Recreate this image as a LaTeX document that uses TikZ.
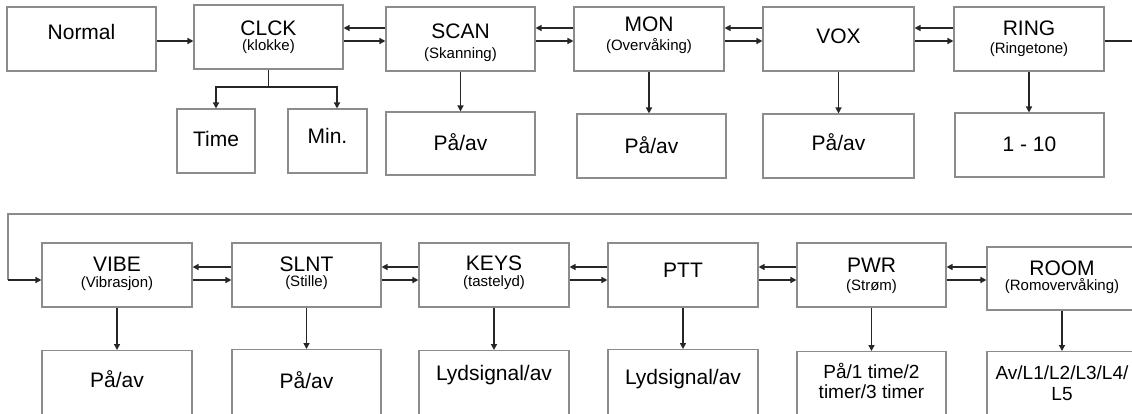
\documentclass[tikz,border=0pt]{standalone}
\usepackage{fontspec}
\setmainfont{Liberation Sans}
\usetikzlibrary{arrows.meta}
\definecolor{boxgray}{HTML}{8C8C8C}
\definecolor{ink}{HTML}{262626}
\newcommand\sublbl[1]{{\fontsize{15}{17}\selectfont #1}}
\begin{document}
\begin{tikzpicture}[x=1pt,y=-1pt,
  box/.style={draw=boxgray,line width=1.1pt,fill=white,inner sep=0pt,align=center,
    text=black,font=\fontsize{21}{17}\selectfont,minimum width=150pt,minimum height=64pt},
  tl/.style n args={2}{font=\fontsize{21}{#1}\selectfont,text height=#2,text depth=0pt},
  hd/.style n args={2}{text height=#1,text depth=#2},
  opt/.style={anchor=north,text depth=50pt,text height=#1},
  twoline/.style={font=\fontsize{19}{#1}\selectfont},
  arr/.style={draw=ink,line width=1.4pt,-{Triangle[length=6pt,width=6pt]}},
  ln/.style={draw=ink,line width=1.4pt},
  wrap/.style={draw=boxgray,line width=1.1pt}]
\path[use as bounding box] (0,0) rectangle (1132,413);
\clip (0,0) rectangle (1132,413);
% helper coordinates
\coordinate (ya) at (0,28);
\coordinate (yb) at (0,41);
\coordinate (yc) at (0,267);
\coordinate (yd) at (0,280);
\coordinate (br) at (0,87);
\coordinate (mx) at (337,0);
\coordinate (wr) at (1134,214);
\coordinate (wl) at (8,214);
% top row
\node[box,minimum width=149pt,hd={10.3pt}{10pt}] (normal) at (81.5,39) {Normal};
\node[box,minimum width=149pt,tl={14.5pt}{26pt}] (clck) at (268.5,37) {CLCK\\\sublbl{(klokke)}};
\node[box,minimum width=78pt,hd={15pt}{3.6pt}] (time) at (216,141) {Time};
\node[box,minimum width=79pt,hd={15pt}{10.4pt}] (min) at (327.5,141) {Min.};
\node[box,minimum width=149pt,tl={20pt}{39pt}] (scan) at (460.5,39) {SCAN\\\sublbl{(Skanning)}};
\node[box,minimum width=149pt,minimum height=63pt,hd={15pt}{0.6pt}] (scano) at (460.5,143.5) {På/av};
\node[box,tl={18.4pt}{22.2pt}] (mon) at (649,39) {MON\\\sublbl{(Overvåking)}};
\node[box,minimum width=149pt,hd={15pt}{0.4pt}] (mono) at (651.5,146) {På/av};
\node[box,minimum width=151pt,hd={15pt}{6.4pt}] (vox) at (838.5,39) {VOX};
\node[box,minimum width=151pt,hd={15pt}{7pt}] (voxo) at (838.5,146) {På/av};
\node[box,tl={17.8pt}{29pt}] (ring) at (1029,39) {RING\\\sublbl{(Ringetone)}};
\node[box,minimum width=149pt,hd={15pt}{1.6pt}] (ringo) at (1029.5,145) {1 - 10};
% bottom row
\node[box,tl={15.8pt}{25pt}] (vibe) at (117,275) {VIBE\\\sublbl{(Vibrasjon)}};
\node[box,minimum width=149pt,tl={15pt}{23.6pt}] (slnt) at (306.5,275) {SLNT\\\sublbl{(Stille)}};
\node[box,tl={16.8pt}{23.6pt}] (keys) at (494,275) {KEYS\\\sublbl{(tastelyd)}};
\node[box,hd={15pt}{10.4pt}] (ptt) at (683,275) {PTT};
\node[box,minimum width=149pt,tl={17.4pt}{30.2pt}] (pwr) at (871.5,275) {PWR\\\sublbl{(Strøm)}};
\node[box,minimum height=63pt,tl={15.8pt}{24.6pt}] (room) at (1062,278.5) {ROOM\\\sublbl{(Romovervåking)}};
% bottom row option boxes (run off the lower edge)
\node[box,opt=36.7pt] (vibeo) at (117,350) {På/av};
\node[box,minimum width=149pt,opt=38.7pt] (slnto) at (306.5,349) {På/av};
\node[box,opt=30pt] (keyso) at (494,350) {Lydsignal/av};
\node[box,opt=35pt] (ptto) at (683,349) {Lydsignal/av};
\node[box,twoline=20pt,minimum width=149pt,opt=47.3pt] (pwro) at (871.5,351) {På/1 time/2\\timer/3 timer};
\node[box,twoline=20.7pt,opt=49pt] (roomo) at (1062,351) {Av/L1/L2/L3/L4/\\L5};
% top row connectors
\draw[arr] (normal.east |- yb) -- (clck.west |- yb);
\draw[arr] (scan.west |- ya) -- (clck.east |- ya);
\draw[arr] (clck.east |- yb) -- (scan.west |- yb);
\draw[arr] (mon.west |- ya) -- (scan.east |- ya);
\draw[arr] (scan.east |- yb) -- (mon.west |- yb);
\draw[arr] (vox.west |- ya) -- (mon.east |- ya);
\draw[arr] (mon.east |- yb) -- (vox.west |- yb);
\draw[arr] (ring.west |- ya) -- (vox.east |- ya);
\draw[arr] (vox.east |- yb) -- (ring.west |- yb);
\draw[ln] (clck.south) -- (clck.south |- br);
\draw[arr] (clck.south |- br) -| (time.north);
\draw[arr] (clck.south |- br) -| (min.north -| mx);
\draw[arr] (scan.south) -- (scan.south |- scano.north);
\draw[arr] (mon.south) -- (mon.south |- mono.north);
\draw[arr] (vox.south) -- (vox.south |- voxo.north);
\draw[arr] (ring.south) -- (ring.south |- ringo.north);
% wrap-around connector
\draw[ln] (ring.east |- yb) -- (yb -| wr);
\draw[wrap] (yb -| wr) -- (wr) -- (wl) -- (wl |- yd);
\draw[arr] (wl |- yd) -- (vibe.west |- yd);
% bottom row connectors
\draw[arr] (slnt.west |- yc) -- (vibe.east |- yc);
\draw[arr] (vibe.east |- yd) -- (slnt.west |- yd);
\draw[arr] (keys.west |- yc) -- (slnt.east |- yc);
\draw[arr] (slnt.east |- yd) -- (keys.west |- yd);
\draw[arr] (ptt.west |- yc) -- (keys.east |- yc);
\draw[arr] (keys.east |- yd) -- (ptt.west |- yd);
\draw[arr] (pwr.west |- yc) -- (ptt.east |- yc);
\draw[arr] (ptt.east |- yd) -- (pwr.west |- yd);
\draw[arr] (room.west |- yc) -- (pwr.east |- yc);
\draw[arr] (pwr.east |- yd) -- (room.west |- yd);
\draw[arr] (vibe.south) -- (vibe.south |- vibeo.north);
\draw[arr] (slnt.south) -- (slnt.south |- slnto.north);
\draw[arr] (keys.south) -- (keys.south |- keyso.north);
\draw[arr] (ptt.south) -- (ptt.south |- ptto.north);
\draw[arr] (pwr.south) -- (pwr.south |- pwro.north);
\draw[arr] (room.south -| roomo.north) -- (roomo.north);
\end{tikzpicture}
\end{document}
